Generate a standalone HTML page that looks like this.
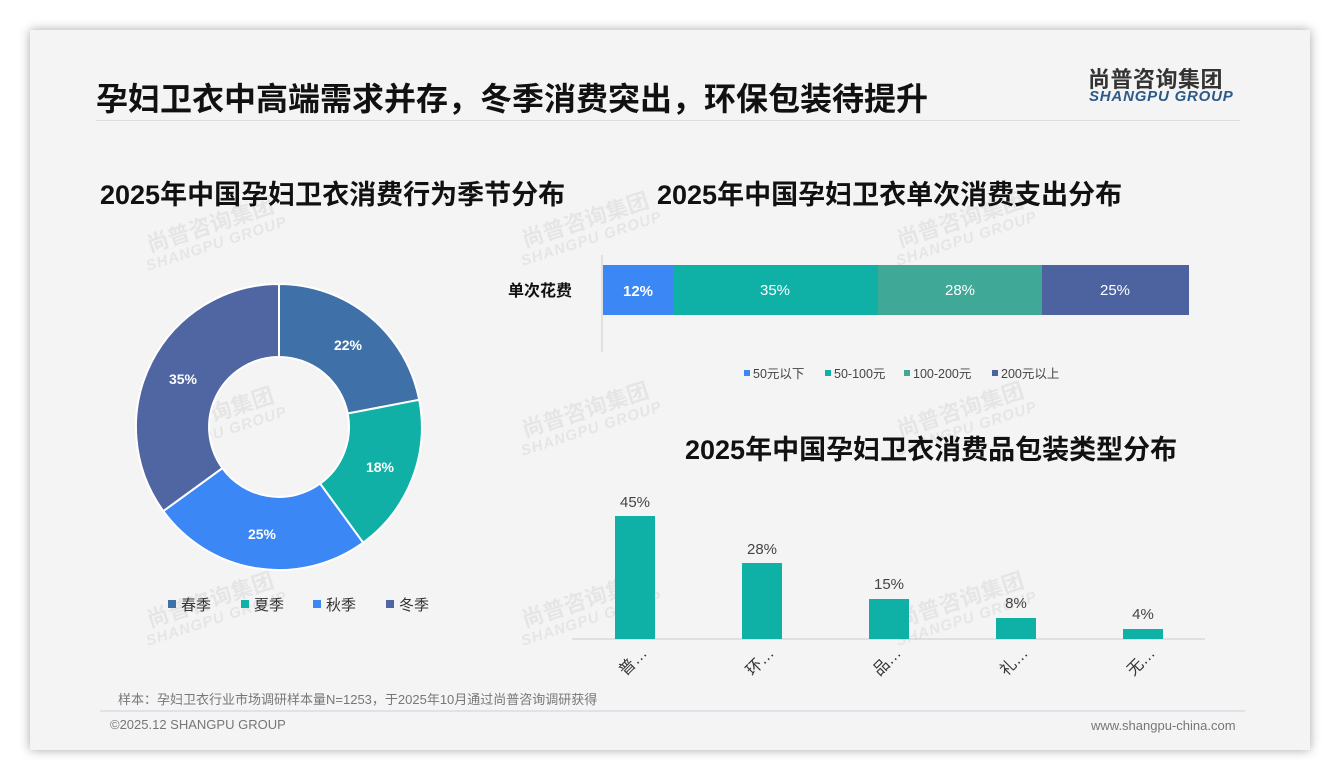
<!DOCTYPE html>
<html><head><meta charset="utf-8"><style>
body{margin:0;width:1340px;height:780px;background:#fff;font-family:"Liberation Sans","Noto Sans CJK SC",sans-serif;position:relative;overflow:hidden}
.card{position:absolute;left:30px;top:30px;width:1280px;height:720px;background:#f4f4f4;box-shadow:0 0 10px rgba(0,0,0,.35)}
.a{position:absolute;white-space:nowrap}
.wm{position:absolute;color:rgba(0,0,0,.06);font-weight:bold;font-size:22px;transform:rotate(-18deg);line-height:20px;text-align:center}
.wm span{display:block;font-size:15px;font-style:italic;letter-spacing:1px}
</style></head><body>
<div class="card"></div>
<div class="a" style="left:96px;top:74px;font-size:32px;font-weight:bold;color:#111">孕妇卫衣中高端需求并存，冬季消费突出，环保包装待提升</div>
<div class="a" style="left:1088px;top:62px;font-size:22px;font-weight:bold;color:#333;letter-spacing:0.5px">尚普咨询集团</div>
<div class="a" style="left:1089px;top:88px;font-size:15px;font-weight:bold;font-style:italic;color:#2b5a8a;letter-spacing:0.8px">SHANGPU GROUP</div>
<div class="a" style="left:96px;top:120px;width:1144px;height:1px;background:#ddd"></div>

<div class="wm" style="left:140px;top:215px">尚普咨询集团<span>SHANGPU GROUP</span></div>
<div class="wm" style="left:515px;top:210px">尚普咨询集团<span>SHANGPU GROUP</span></div>
<div class="wm" style="left:890px;top:210px">尚普咨询集团<span>SHANGPU GROUP</span></div>
<div class="wm" style="left:140px;top:405px">尚普咨询集团<span>SHANGPU GROUP</span></div>
<div class="wm" style="left:515px;top:400px">尚普咨询集团<span>SHANGPU GROUP</span></div>
<div class="wm" style="left:890px;top:400px">尚普咨询集团<span>SHANGPU GROUP</span></div>
<div class="wm" style="left:140px;top:590px">尚普咨询集团<span>SHANGPU GROUP</span></div>
<div class="wm" style="left:515px;top:590px">尚普咨询集团<span>SHANGPU GROUP</span></div>
<div class="wm" style="left:890px;top:590px">尚普咨询集团<span>SHANGPU GROUP</span></div>

<div class="a" style="left:100px;top:173px;font-size:27px;font-weight:bold;color:#111">2025年中国孕妇卫衣消费行为季节分布</div>
<div class="a" style="left:657px;top:173px;font-size:27px;font-weight:bold;color:#111">2025年中国孕妇卫衣单次消费支出分布</div>
<div class="a" style="left:685px;top:428px;font-size:27px;font-weight:bold;color:#111">2025年中国孕妇卫衣消费品包装类型分布</div>

<svg class="a" style="left:0;top:0" width="1340" height="780">
<g stroke="#fff" stroke-width="2">
<path d="M279,284 A143,143 0 0 1 419.2,399.8 L347.7,413.5 A70,70 0 0 0 279,357Z" fill="#3f71a8"/>
<path d="M419.2,399.8 A143,143 0 0 1 363.1,542.7 L320.1,483.6 A70,70 0 0 0 347.7,413.5Z" fill="#10b0a6"/>
<path d="M363.1,542.7 A143,143 0 0 1 163.3,511.1 L222.4,468.1 A70,70 0 0 0 320.1,483.6Z" fill="#3a87f5"/>
<path d="M163.3,511.1 A143,143 0 0 1 279,284 L279,357 A70,70 0 0 0 222.4,468.1Z" fill="#5066a2"/>
</g>
<g font-size="14" font-weight="bold" fill="#fff" text-anchor="middle">
<text x="348" y="350">22%</text><text x="380" y="472">18%</text><text x="262" y="539">25%</text><text x="183" y="384">35%</text>
</g>
<g font-size="15" fill="#333">
<rect x="168" y="600" width="8" height="8" fill="#3f71a8"/><text x="181" y="610">春季</text>
<rect x="241" y="600" width="8" height="8" fill="#10b0a6"/><text x="254" y="610">夏季</text>
<rect x="313" y="600" width="8" height="8" fill="#3a87f5"/><text x="326" y="610">秋季</text>
<rect x="386" y="600" width="8" height="8" fill="#5066a2"/><text x="399" y="610">冬季</text>
</g>
<line x1="602" y1="255" x2="602" y2="352" stroke="#ccc"/>
<text x="508" y="296" font-size="16" font-weight="bold" fill="#111">单次花费</text>
<rect x="603" y="265" width="70" height="50" fill="#3a87f5"/>
<rect x="673" y="265" width="205" height="50" fill="#0fb0a6"/>
<rect x="878" y="265" width="164" height="50" fill="#3fa896"/>
<rect x="1042" y="265" width="147" height="50" fill="#4d63a0"/>
<g font-size="15" fill="#fff" text-anchor="middle">
<text x="638" y="296" font-weight="bold">12%</text><text x="775" y="295">35%</text><text x="960" y="295">28%</text><text x="1115" y="295">25%</text>
</g>
<g font-size="12.5" fill="#444">
<rect x="744" y="370" width="6" height="6" fill="#3a87f5"/><text x="753" y="378">50元以下</text>
<rect x="825" y="370" width="6" height="6" fill="#0fb0a6"/><text x="834" y="378">50-100元</text>
<rect x="904" y="370" width="6" height="6" fill="#3fa896"/><text x="913" y="378">100-200元</text>
<rect x="992" y="370" width="6" height="6" fill="#4d63a0"/><text x="1001" y="378">200元以上</text>
</g>
<line x1="572" y1="639" x2="1205" y2="639" stroke="#ccc"/>
<g fill="#0fb0a6">
<rect x="615" y="516" width="40" height="123"/><rect x="742" y="563" width="40" height="76"/><rect x="869" y="599" width="40" height="40"/><rect x="996" y="618" width="40" height="21"/><rect x="1123" y="629" width="40" height="10"/>
</g>
<g font-size="15" fill="#444" text-anchor="middle">
<text x="635" y="507">45%</text><text x="762" y="554">28%</text><text x="889" y="589">15%</text><text x="1016" y="608">8%</text><text x="1143" y="619">4%</text>
</g>
<g font-size="16" fill="#333" text-anchor="end">
<text transform="translate(648,654) rotate(-45)">普…</text>
<text transform="translate(775,654) rotate(-45)">环…</text>
<text transform="translate(902,654) rotate(-45)">品…</text>
<text transform="translate(1029,654) rotate(-45)">礼…</text>
<text transform="translate(1156,654) rotate(-45)">无…</text>
</g>
<line x1="100" y1="711" x2="1245" y2="711" stroke="#c8d2de"/>
</svg>
<div class="a" style="left:118px;top:689px;font-size:13px;color:#777">样本：孕妇卫衣行业市场调研样本量N=1253，于2025年10月通过尚普咨询调研获得</div>
<div class="a" style="left:110px;top:717px;font-size:13px;color:#777">©2025.12 SHANGPU GROUP</div>
<div class="a" style="left:1091px;top:718px;font-size:13px;color:#777">www.shangpu-china.com</div>
</body></html>
